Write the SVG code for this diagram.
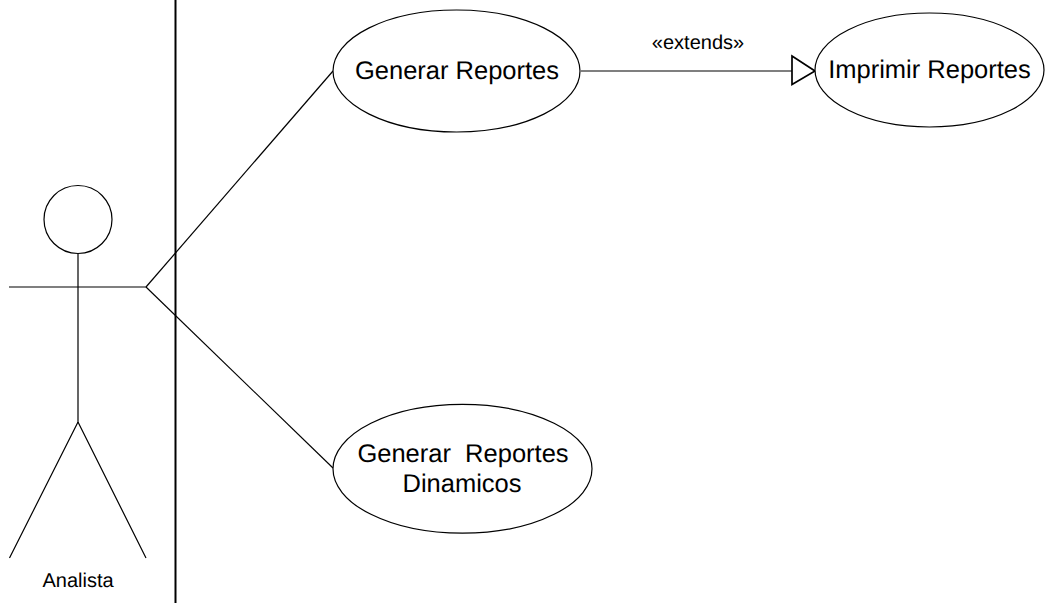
<svg xmlns="http://www.w3.org/2000/svg" width="1045" height="603" viewBox="0 0 1045 603">
<style>
.s{fill:none;stroke:#000;stroke-width:1.2}
.e{fill:#fff;stroke:#000;stroke-width:1.2}
.h{fill:#fff;stroke:#000;stroke-width:1.7}
text{font-family:"Liberation Sans",Arial,sans-serif;fill:#000;text-anchor:middle;text-rendering:geometricPrecision}
.l{font-size:25.5px}
.m{font-size:20px}
</style>
<rect width="1045" height="603" fill="#fff"/>
<g id="boundary"><line x1="175.5" y1="0" x2="175.5" y2="603" stroke="#000" stroke-width="2"/></g>
<g id="connectors">
<path class="s" d="M146 287L333 71"/>
<path class="s" d="M146 287L333 468"/>
<path class="s" d="M581 71H792"/>
<path class="h" d="M792 56L815 71L792 84.500Z"/>
<text class="m" x="698" y="49">«extends»</text>
</g>
<g id="actor">
<circle class="s" cx="78" cy="219.500" r="34"/>
<path class="s" d="M78 253.500V422M9 287H146M78 422L9.500 558M78 422L146 558"/>
<text class="m" x="78" y="587">Analista</text>
</g>
<g id="generar-reportes"><ellipse class="e" cx="456.500" cy="71" rx="123.500" ry="61"/><text class="l" x="457" y="79">Generar Reportes</text></g>
<g id="imprimir-reportes"><ellipse class="e" cx="929.500" cy="70" rx="114.500" ry="57"/><text class="l" x="929.500" y="78">Imprimir Reportes</text></g>
<g id="generar-dinamicos"><ellipse class="e" cx="462.500" cy="468.800" rx="129.500" ry="64.400"/><text class="l" x="463" y="462" xml:space="preserve">Generar  Reportes</text><text class="l" x="462" y="492">Dinamicos</text></g>
</svg>
